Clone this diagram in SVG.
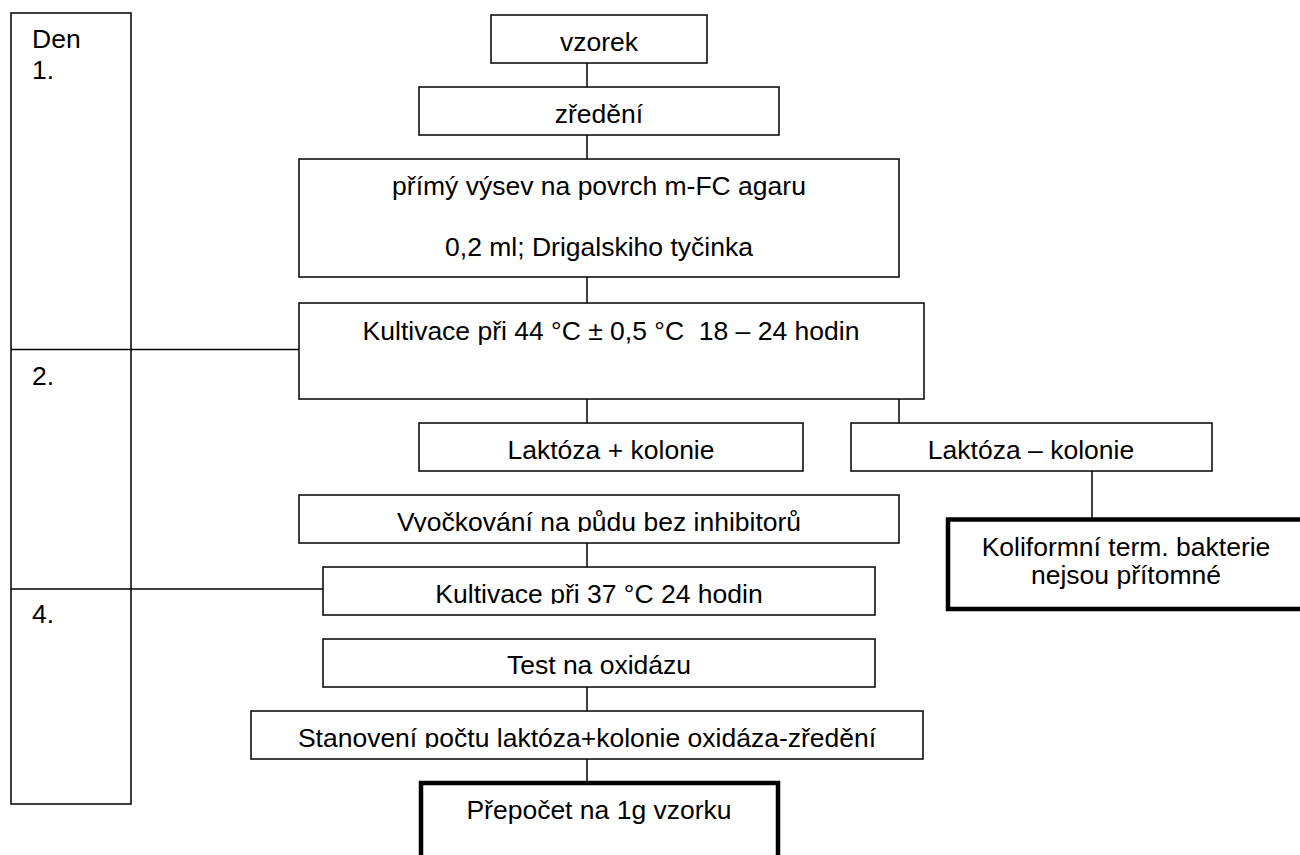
<svg xmlns="http://www.w3.org/2000/svg" width="1300" height="855" viewBox="0 0 1300 855">
<style>
.box{fill:#fff;stroke:#000;stroke-width:1.5}
.thick{fill:#fff;stroke:#000;stroke-width:4.5}
.t{font-family:"Liberation Sans",Arial,sans-serif;font-size:26.5px;fill:#000;text-anchor:middle;white-space:pre}
.l{font-family:"Liberation Sans",Arial,sans-serif;font-size:26.5px;fill:#000}
.c{stroke:#000;stroke-width:1.5;fill:none}
</style>
<defs>
<clipPath id="clipV"><rect x="299" y="495" width="600" height="37"/></clipPath>
<clipPath id="clipK37"><rect x="323" y="567" width="552" height="37"/></clipPath>
<clipPath id="clipS"><rect x="251" y="711" width="672" height="37"/></clipPath>
</defs>
<rect width="1300" height="855" fill="#fff"/>
<g id="days">
<rect class="box" x="11" y="13" width="120" height="791"/>
<text class="l" x="32" y="48">Den</text>
<text class="l" x="32" y="79">1.</text>
<text class="l" x="32" y="385">2.</text>
<text class="l" x="32" y="623">4.</text>
</g>
<g id="connectors">
<line class="c" x1="587" y1="63" x2="587" y2="87"/>
<line class="c" x1="587" y1="135" x2="587" y2="159"/>
<line class="c" x1="587" y1="277" x2="587" y2="303"/>
<line class="c" x1="587" y1="399" x2="587" y2="423"/>
<line class="c" x1="899" y1="399" x2="899" y2="423"/>
<line class="c" x1="1092" y1="471" x2="1092" y2="519"/>
<line class="c" x1="587" y1="543" x2="587" y2="567"/>
<line class="c" x1="587" y1="687" x2="587" y2="711"/>
<line class="c" x1="587" y1="759" x2="587" y2="783"/>
<line class="c" x1="11" y1="349.5" x2="299" y2="349.5"/>
<line class="c" x1="11" y1="589" x2="323" y2="589"/>
</g>
<g id="vzorek">
<rect class="box" x="491" y="15" width="216" height="48"/>
<text class="t" x="599" y="51">vzorek</text>
</g>
<g id="zredeni">
<rect class="box" x="419" y="87" width="360" height="48"/>
<text class="t" x="599" y="123">zředění</text>
</g>
<g id="vysev">
<rect class="box" x="299" y="159" width="600" height="118"/>
<text class="t" x="599" y="195">přímý výsev na povrch m-FC agaru</text>
<text class="t" x="599" y="256">0,2 ml; Drigalskiho tyčinka</text>
</g>
<g id="kultivace44">
<rect class="box" x="299" y="303" width="625" height="96"/>
<text class="t" x="611" y="340">Kultivace při 44 °C ± 0,5 °C  18 – 24 hodin</text>
</g>
<g id="laktoza-plus">
<rect class="box" x="419" y="423" width="384" height="48"/>
<text class="t" x="611" y="459">Laktóza + kolonie</text>
</g>
<g id="laktoza-minus">
<rect class="box" x="851" y="423" width="361" height="48"/>
<text class="t" x="1031" y="459">Laktóza – kolonie</text>
</g>
<g id="vyockovani">
<rect class="box" x="299" y="495" width="600" height="48"/>
<text class="t" x="599" y="531" clip-path="url(#clipV)">Vyočkování na půdu bez inhibitorů</text>
</g>
<g id="koliformni">
<rect class="thick" x="948" y="519.5" width="362" height="89.5"/>
<text class="t" x="1126" y="556">Koliformní term. bakterie</text>
<text class="t" x="1126" y="584">nejsou přítomné</text>
</g>
<g id="kultivace37">
<rect class="box" x="323" y="567" width="552" height="48"/>
<text class="t" x="599" y="603" clip-path="url(#clipK37)">Kultivace při 37 °C 24 hodin</text>
</g>
<g id="test">
<rect class="box" x="323" y="639" width="552" height="48"/>
<text class="t" x="599" y="674">Test na oxidázu</text>
</g>
<g id="stanoveni">
<rect class="box" x="251" y="711" width="672" height="48"/>
<text class="t" x="587" y="747" clip-path="url(#clipS)">Stanovení počtu laktóza+kolonie oxidáza-zředění</text>
</g>
<g id="prepocet">
<rect class="thick" x="421" y="783" width="357" height="100"/>
<text class="t" x="599" y="819">Přepočet na 1g vzorku</text>
</g>
</svg>
